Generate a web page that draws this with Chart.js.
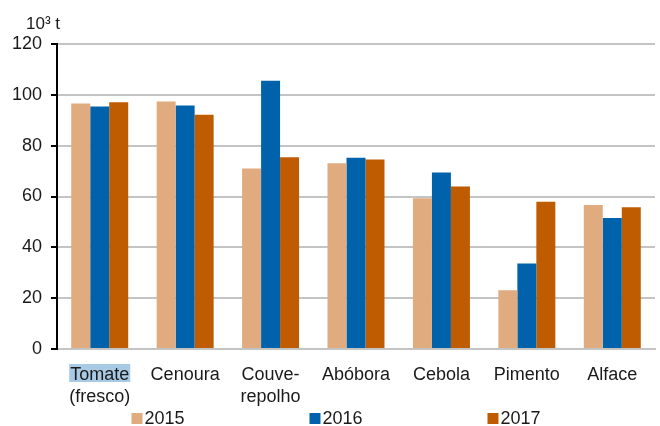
<!DOCTYPE html>
<html><head><meta charset="utf-8">
<script src="https://cdn.jsdelivr.net/npm/chart.js@4/dist/chart.umd.min.js"></script>
<style>html,body{margin:0;padding:0;background:#fff}#wrap{width:660px;height:426px}</style>
</head><body><div id="wrap"><canvas id="c" width="660" height="426"></canvas></div>
<script>
const categories = [['Tomate','(fresco)'], 'Cenoura', ['Couve-','repolho'], 'Abóbora', 'Cebola', 'Pimento', 'Alface'];
const seriesLabels = ['2015', '2016', '2017'];
const values2015 = [96.6, 97.4, 71.0, 73.1, 59.3, 23.1, 56.7];
const values2016 = [95.4, 95.8, 105.5, 75.2, 69.4, 33.6, 51.5];
const values2017 = [97.1, 92.2, 75.4, 74.6, 63.9, 57.9, 55.8];
const yTicks = [0, 20, 40, 60, 80, 100, 120];
const unitLabel = '10³ t';
const colors = ['#E0AB7E', '#0062AB', '#BF5B00'];
const FONT = 'Liberation Sans, Arial, sans-serif';

const extras = {
  id: 'extras',
  beforeDraw(chart) {
    const ctx = chart.ctx, xs = chart.scales.x;
    ctx.save();
    ctx.font = '18px ' + FONT;
    const w = ctx.measureText('Tomate').width;
    const cx = xs.getPixelForValue(0);
    ctx.fillStyle = '#A8CAE5';
    ctx.fillRect(cx - w/2 - 1, 364, w + 2, 18);
    ctx.restore();
  },
  afterDraw(chart) {
    const ctx = chart.ctx;
    ctx.save();
    ctx.fillStyle = '#1a1a1a';
    ctx.font = '17px ' + FONT;
    ctx.textBaseline = 'alphabetic';
    ctx.textAlign = 'left';
    ctx.fillText(unitLabel, 26, 29);
    ctx.font = '18px ' + FONT;
    const center = 336, step = 178;
    chart.data.datasets.forEach((ds, i) => {
      const tw = ctx.measureText(ds.label).width;
      const itemW = 13 + tw;
      const x0 = center + (i - 1) * step - itemW / 2;
      ctx.fillStyle = ds.backgroundColor;
      ctx.fillRect(x0, 413, 11, 11);
      ctx.fillStyle = '#1a1a1a';
      ctx.fillText(ds.label, x0 + 13, 424);
    });
    ctx.restore();
  }
};

new Chart(document.getElementById('c'), {
  type: 'bar',
  data: {
    labels: categories,
    datasets: [
      { label: seriesLabels[0], data: values2015, backgroundColor: colors[0] },
      { label: seriesLabels[1], data: values2016, backgroundColor: colors[1] },
      { label: seriesLabels[2], data: values2017, backgroundColor: colors[2] }
    ]
  },
  options: {
    responsive: false,
    animation: false,
    devicePixelRatio: 1,
    layout: { padding: { left: 0, right: 5, top: 44, bottom: 2 } },
    datasets: { bar: { categoryPercentage: 0.667, barPercentage: 1.0 } },
    plugins: { legend: { display: false }, tooltip: { enabled: false } },
    scales: {
      x: {
        grid: { display: false },
        border: { display: true, color: '#c4c4c4', width: 2 },
        ticks: { color: '#1a1a1a', font: { family: FONT, size: 18, lineHeight: 1.22 }, padding: 7, maxRotation: 0, autoSkip: false },
        afterFit(s) { s.height = 75; }
      },
      y: {
        min: 0, max: 120,
        afterBuildTicks(s) { s.ticks = yTicks.map(v => ({ value: v })); },
        grid: { color: '#c4c4c4', lineWidth: 2, tickColor: '#000', tickLength: 6, drawTicks: true },
        border: { display: true, color: '#000', width: 2 },
        ticks: { color: '#1a1a1a', font: { family: FONT, size: 18 }, padding: 9 },
        afterFit(s) { s.width = 57; }
      }
    }
  },
  plugins: [extras]
});
</script></body></html>
